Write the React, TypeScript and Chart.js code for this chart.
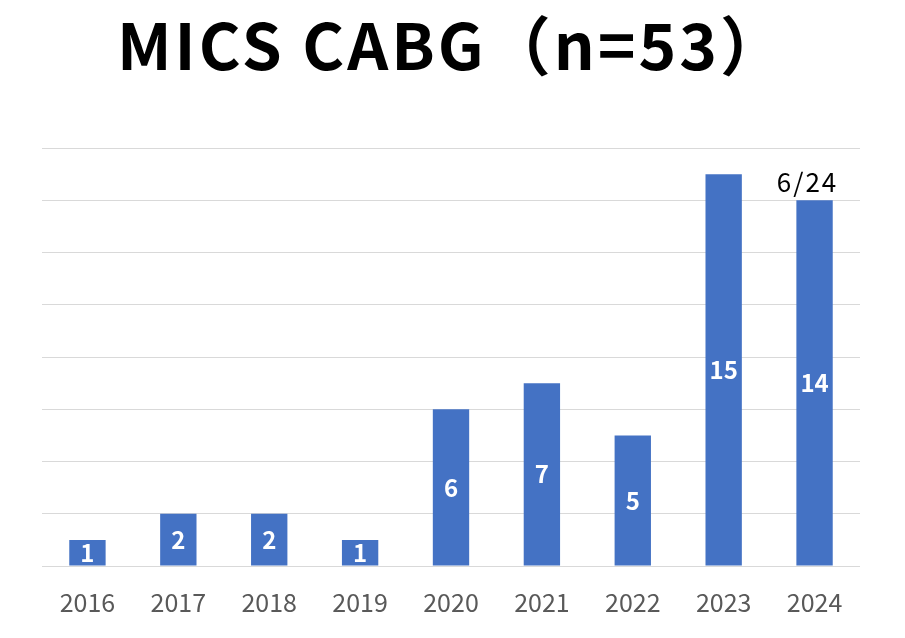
import React, { useEffect, useRef } from "react";
import { Chart, registerables } from "chart.js";

Chart.register(...registerables);

const years = ["2016", "2017", "2018", "2019", "2020", "2021", "2022", "2023", "2024"];
const cases = [1, 2, 2, 1, 6, 7, 5, 15, 14];
const noteLabels = ["", "", "", "", "", "", "", "", "6/24"];
const titleText = "MICS CABG（n=53）";

const FONT = "'Noto Sans CJK JP', 'Noto Sans', sans-serif";

const labelPlugin = {
  id: "barLabels",
  afterDatasetsDraw(chart: any) {
    const ctx = chart.ctx;
    const meta = chart.getDatasetMeta(0);
    ctx.save();
    ctx.textAlign = "center";
    ctx.textBaseline = "middle";
    meta.data.forEach((bar: any, i: number) => {
      const midY = (bar.y + bar.base) / 2;
      ctx.fillStyle = "#ffffff";
      ctx.font = `bold 24px ${FONT}`;
      ctx.fillText(String(cases[i]), bar.x, midY);
      if (noteLabels[i]) {
        ctx.fillStyle = "#000000";
        ctx.font = `26px ${FONT}`;
        (ctx as any).letterSpacing = "2px";
        ctx.fillText(noteLabels[i], bar.x - 7, bar.y - 18);
        (ctx as any).letterSpacing = "0px";
      }
    });
    ctx.restore();
  },
};

const titlePlugin = {
  id: "bigTitle",
  afterDraw(chart: any) {
    const ctx = chart.ctx;
    ctx.save();
    ctx.fillStyle = "#000000";
    ctx.textAlign = "center";
    ctx.textBaseline = "middle";
    ctx.font = `600 64px ${FONT}`;
    (ctx as any).letterSpacing = "3px";
    ctx.fillText(titleText, 452, 46);
    ctx.restore();
  },
};

export default function App() {
  const ref = useRef<HTMLCanvasElement>(null);
  useEffect(() => {
    if (!ref.current) return;
    const chart = new Chart(ref.current, {
      type: "bar",
      data: {
        labels: years,
        datasets: [
          {
            data: cases,
            backgroundColor: "#4472C4",
            borderWidth: 0,
            barPercentage: 0.4,
            categoryPercentage: 1,
          },
        ],
      },
      options: {
        responsive: false,
        animation: false,
        layout: { padding: { top: 148, left: 42, right: 45, bottom: 0 } },
        plugins: {
          legend: { display: false },
          title: { display: false },
          tooltip: { enabled: false },
        },
        scales: {
          x: {
            grid: { display: false },
            border: { display: false },
            ticks: {
              color: "#595959",
              font: { family: FONT, size: 25 },
              padding: 13,
            },
            afterFit: (s: any) => {
              s.height = 72;
            },
          },
          y: {
            min: 0,
            max: 16,
            ticks: { display: false, stepSize: 2 },
            grid: { color: "#d9d9d9", drawTicks: false, lineWidth: 1 },
            border: { display: false },
            afterFit: (s: any) => {
              s.width = 0;
            },
          },
        },
      },
      plugins: [labelPlugin, titlePlugin],
    });
    return () => chart.destroy();
  }, []);
  return (
    <div style={{ position: "absolute", left: 0, top: 0, width: 905, height: 638, background: "#fff" }}>
      <canvas ref={ref} width={905} height={638} />
    </div>
  );
}
